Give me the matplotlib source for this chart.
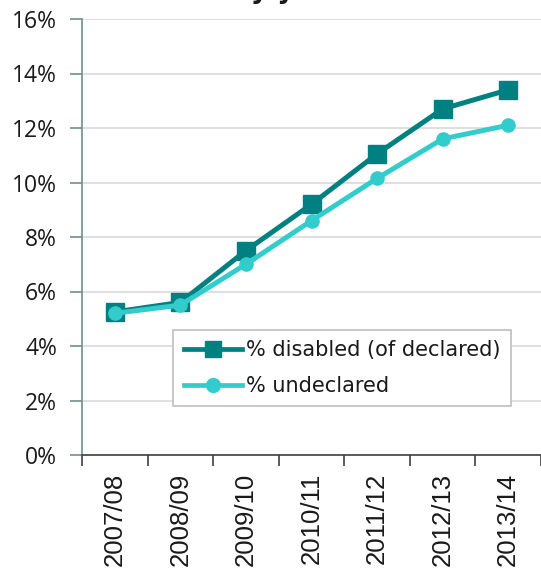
import matplotlib
matplotlib.use('Agg')
import numpy as np
import matplotlib.pyplot as plt
from matplotlib.lines import Line2D
from matplotlib.ticker import FixedLocator, PercentFormatter

# Academic years and percentages
years = ['2007/08', '2008/09', '2009/10', '2010/11', '2011/12', '2012/13', '2013/14']
pct_disabled = [5.25, 5.6, 7.5, 9.2, 11.05, 12.7, 13.4]
pct_undeclared = [5.2, 5.5, 7.0, 8.6, 10.15, 11.6, 12.1]
y_ticks = [0, 2, 4, 6, 8, 10, 12, 14, 16]

dark = '#008080'
light = '#33CCCC'

fig = plt.figure(figsize=(5.41, 5.76), dpi=100)
ax = fig.add_axes([82 / 541, 1 - 455 / 576, 459 / 541, 436 / 576])

x = np.arange(len(years))
ax.plot(x, pct_disabled, color=dark, lw=3.6, marker='s', ms=13.5,
        zorder=3, solid_capstyle='round')
ax.plot(x, pct_undeclared, color=light, lw=3.6, marker='o', ms=9.5,
        zorder=4, solid_capstyle='round')

ax.set_xlim(-0.5, len(years) - 0.5)
ax.set_ylim(0, 16)

# y axis: percent ticks with light grid
ax.set_yticks(y_ticks)
ax.yaxis.set_major_formatter(PercentFormatter(decimals=0))
ax.grid(axis='y', color='#D9D9D9', lw=1.2)
ax.set_axisbelow(True)
ax.tick_params(axis='y', direction='out', length=9, width=1.2,
               color='#6F8F8C', pad=9, labelsize=16.5)
for t in ax.get_yticklabels():
    t.set_fontfamily('Open Sans')
    t.set_color('#1A1A1A')

# x axis: ticks between categories, labels at centres
ax.xaxis.set_major_locator(FixedLocator(np.arange(-0.5, len(years) - 0.4, 1)))
ax.xaxis.set_minor_locator(FixedLocator(x))
ax.xaxis.set_major_formatter(plt.NullFormatter())
ax.set_xticks(x, minor=True)
ax.set_xticklabels(years, minor=True, rotation=90, fontsize=18.5,
                   fontfamily='Liberation Sans', color='#1A1A1A')
ax.tick_params(axis='x', which='major', direction='out', length=8,
               width=1.2, color='#404040')
ax.tick_params(axis='x', which='minor', length=0, pad=13)

ax.spines['left'].set_color('#6F8F8C')
ax.spines['left'].set_linewidth(1.2)
ax.spines['bottom'].set_color('#404040')
ax.spines['bottom'].set_linewidth(1.2)
ax.spines['top'].set_visible(False)
ax.spines['right'].set_visible(False)

handles = [
    Line2D([], [], color=dark, lw=3.4, marker='s', ms=12),
    Line2D([], [], color=light, lw=3.4, marker='o', ms=10),
]
leg = ax.legend(handles, ['% disabled (of declared)', '% undeclared'],
                loc='upper left', bbox_to_anchor=(0.199, 0.287),
                borderaxespad=0, fancybox=False, framealpha=1,
                edgecolor='#BFBFBF', handlelength=2.8, handletextpad=0.2,
                borderpad=0.5, labelspacing=0.75,
                prop={'family': 'DejaVu Sans', 'size': 15})
leg.get_frame().set_linewidth(1.2)
for t in leg.get_texts():
    t.set_color('#1A1A1A')

# title mostly above the visible area
fig.text(232 / 541, 1 + 2 / 576, 'by year', ha='left', va='baseline',
         fontsize=19, fontweight='bold', color='#1A1A1A')

fig.savefig('out.png', dpi=100, facecolor='white')
